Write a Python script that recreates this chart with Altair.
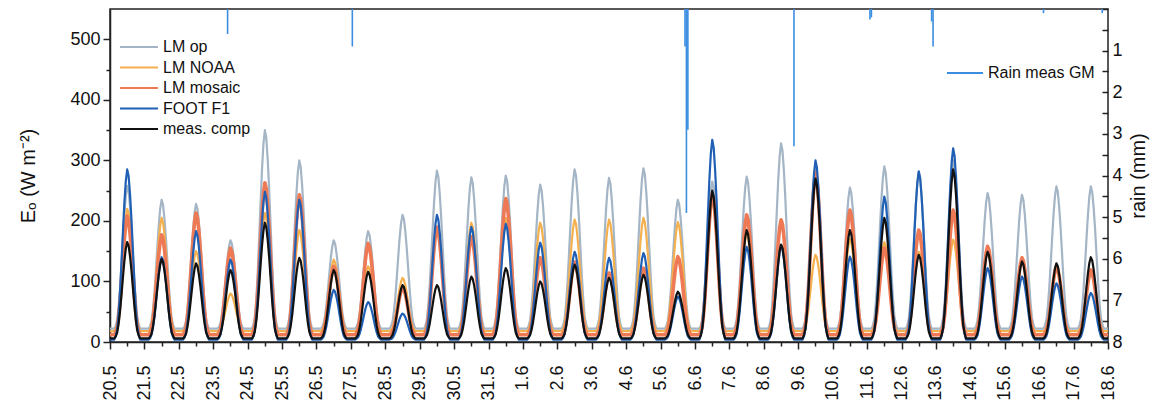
import altair as alt
import pandas as pd

# ---------------- data ----------------
start = pd.Timestamp("2007-05-20 00:00")
n_days = 29

series_names = ["LM op", "LM NOAA", "LM mosaic", "FOOT F1", "meas. comp"]
series_colors = ["#a4b5c6", "#f5b04e", "#ee7a55", "#1f5fb4", "#111111"]
series_widths = [2.2, 2.2, 3.6, 2.2, 2.2]

# daily midday peaks (W m-2), one per day 20.5 ... 17.6
lm_op_peak = [258, 235, 228, 168, 350, 300, 168, 183, 210, 283, 272, 275, 260, 285,
              271, 287, 235, 265, 273, 328, 285, 255, 290, 280, 300, 246, 243, 257, 257]
lm_noaa_peak = [220, 205, 150, 80, 213, 185, 136, 125, 106, 185, 197, 205, 197, 202,
                202, 205, 198, 235, 180, 200, 144, 170, 165, 149, 169, 150, 140, 120, 115]
lm_mosaic_peak = [208, 177, 213, 155, 263, 243, 125, 163, 90, 190, 174, 237, 139, 132,
                  114, 122, 141, 245, 210, 202, 280, 218, 155, 185, 218, 158, 139, 125, 119]
foot_f1_peak = [285, 140, 183, 136, 248, 235, 86, 66, 47, 210, 190, 195, 164, 149,
                139, 147, 75, 334, 157, 160, 300, 141, 240, 282, 320, 122, 108, 97, 81]
meas_peak = [165, 137, 130, 119, 197, 139, 119, 116, 94, 94, 108, 122, 100, 128,
             106, 111, 83, 250, 185, 161, 270, 185, 205, 144, 285, 149, 133, 130, 140]
night_base = [22, 18, 12, 4, 6]

# typical hourly shape of a day (fraction of the day's peak)
diurnal_profile = [0, 0, 0, 0, 0.02, 0.06, 0.15, 0.28, 0.45, 0.63, 0.80, 0.93,
                   1.0, 0.96, 0.85, 0.70, 0.52, 0.34, 0.19, 0.08, 0.03, 0, 0, 0]

# rain gauge (mm)
rain_time = ["2007-05-23 10:00", "2007-05-27 01:00", "2007-06-05 17:00",
             "2007-06-05 18:00", "2007-06-05 19:00", "2007-06-08 21:00",
             "2007-06-11 02:00", "2007-06-11 03:00", "2007-06-12 21:00",
             "2007-06-12 22:00", "2007-06-16 03:00", "2007-06-17 20:00"]
rain_mm = [0.6, 0.9, 0.9, 4.9, 2.9, 3.3, 0.25, 0.2, 0.3, 0.9, 0.1, 0.1]

# ---------------- build tables ----------------
peaks = [lm_op_peak, lm_noaa_peak, lm_mosaic_peak, foot_f1_peak, meas_peak]
rows = []
for name, pk, base in zip(series_names, peaks, night_base):
    for d in range(n_days):
        for h in range(24):
            t = start + pd.Timedelta(days=d, hours=h)
            rows.append({"t": t, "series": name,
                         "value": base + (pk[d] - base) * diurnal_profile[h]})
    rows.append({"t": start + pd.Timedelta(days=n_days), "series": name, "value": base})
df = pd.DataFrame(rows)

rain_df = pd.DataFrame({"t": pd.to_datetime(rain_time), "rain": rain_mm,
                        "zero": 0.0, "src": "Rain meas GM"})
legend_df = pd.DataFrame({"series": series_names})

# ---------------- axes ----------------
day_ticks = []
for d in range(n_days + 1):
    ts = start + pd.Timedelta(days=d)
    day_ticks.append(alt.DateTime(year=ts.year, month=ts.month, date=ts.day, hours=0))
    if d < n_days:
        day_ticks.append(alt.DateTime(year=ts.year, month=ts.month, date=ts.day, hours=12))

font = "Liberation Sans"
x_axis = alt.Axis(
    values=day_ticks,
    labelExpr="hours(datum.value) == 0 ? timeFormat(datum.value, '%-d.%-m') : ''",
    tickSize={"condition": {"test": "hours(datum.value) == 0", "value": 7}, "value": 4},
    labelAngle=270, labelFontSize=18, labelPadding=16, labelOverlap=False,
    labelFont=font, labelColor="#111", title=None, grid=False,
    domainColor="#222", domainWidth=1.5, tickColor="#222", tickWidth=1.5,
)
x_scale = alt.Scale(domain=[alt.DateTime(year=2007, month=5, date=20, hours=0),
                            alt.DateTime(year=2007, month=6, date=18, hours=0)])

y_axis = alt.Axis(
    values=list(range(0, 501, 50)),
    labelExpr="datum.value % 100 == 0 ? datum.label : ''",
    tickSize={"condition": {"test": "datum.value % 100 == 0", "value": 7}, "value": 4},
    labelFontSize=18, labelPadding=3, labelFont=font, labelColor="#111",
    title="Eₒ (W m⁻²)", titleFont=font, titleFontSize=20, titleFontWeight="normal",
    titleColor="#111", titleX=-72, titleBaseline="bottom", titleAngle=270,
    grid=False, domainColor="#222", domainWidth=1.5, tickColor="#222", tickWidth=1.5,
)
y_scale = alt.Scale(domain=[0, 550], nice=False)

rain_axis = alt.Axis(
    orient="right", values=[i * 0.5 for i in range(17)],
    labelExpr="datum.value % 1 == 0 && datum.value > 0 ? format(datum.value, 'd') : ''",
    offset=-6, tickSize=6, domain=False, labelPadding=4,
    labelFontSize=18, labelFont=font, labelColor="#111",
    title="rain (mm)", titleFont=font, titleFontSize=20, titleFontWeight="normal",
    titleColor="#111", titleAngle=270, titleBaseline="top", titleX=26,
    grid=False, tickColor="#222", tickWidth=1.5,
)

color_scale = alt.Scale(domain=series_names, range=series_colors)
width_scale = alt.Scale(domain=series_names, range=series_widths)

line_layers = []
for name, w in zip(series_names, series_widths):
    line_layers.append(
        alt.Chart(df[df["series"] == name]).mark_line(strokeWidth=w, strokeJoin="round").encode(
            x=alt.X("t:T", scale=x_scale, axis=x_axis),
            y=alt.Y("value:Q", scale=y_scale, axis=y_axis),
            color=alt.Color("series:N", scale=color_scale, legend=None),
        )
    )
main = alt.layer(*line_layers)

rain = alt.Chart(rain_df).mark_rule(strokeWidth=1.6).encode(
    x=alt.X("t:T", scale=x_scale, axis=x_axis),
    y=alt.Y("zero:Q", scale=alt.Scale(domain=[0, 8], reverse=True, nice=False), axis=rain_axis),
    y2="rain:Q",
    color=alt.Color("src:N", scale=alt.Scale(range=["#3b8de0"]),
                    legend=alt.Legend(orient="none", legendX=836, legendY=45, title=None,
                                      symbolType="stroke", symbolSize=1300,
                                      symbolStrokeWidth=1.8, labelFontSize=16,
                                      labelFont=font, labelColor="#111", labelOffset=4)),
)

# legend for the model series (top-left, one row per series)
leg_y = alt.Y("series:N", scale=alt.Scale(type="point", domain=series_names,
                                          range=[38, 120], padding=0), axis=None)
legend_lines = alt.Chart(legend_df).mark_rule().encode(
    y=leg_y, x=alt.value(10), x2=alt.value(48),
    color=alt.Color("series:N", scale=color_scale, legend=None),
    strokeWidth=alt.StrokeWidth("series:N", scale=width_scale, legend=None),
)
legend_text = alt.Chart(legend_df).mark_text(
    align="left", baseline="middle", fontSize=16, font=font, color="#111"
).encode(y=leg_y, x=alt.value(53), text="series:N")
legend_layer = alt.layer(legend_lines, legend_text)

chart = alt.layer(main, rain, legend_layer).resolve_scale(
    y="independent", color="independent", strokeWidth="independent"
).properties(
    width=998, height=333,
    autosize=alt.AutoSizeParams(type="none"),
    padding={"left": 110, "top": 9, "right": 54, "bottom": 70},
    background="white",
).configure_view(stroke="#222", strokeWidth=1.5)

chart.save("out.html", embed_options={"renderer": "svg", "actions": False})
